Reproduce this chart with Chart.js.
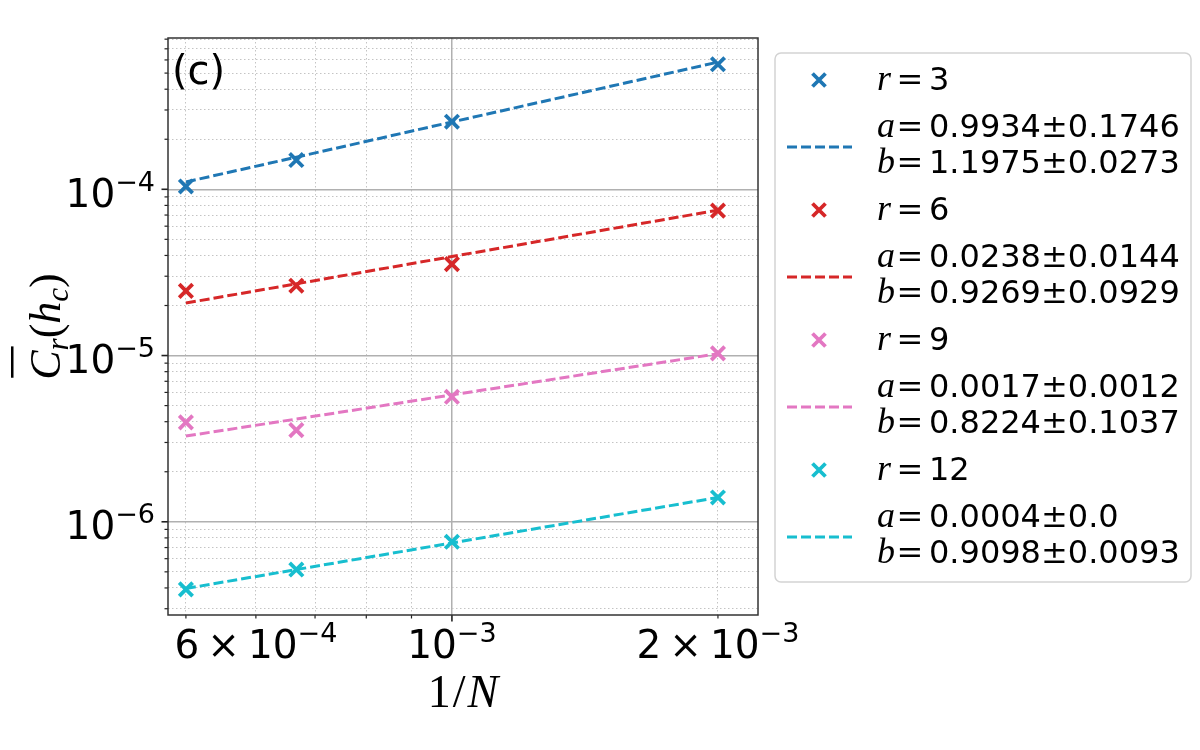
<!DOCTYPE html>
<html>
<head>
<meta charset="utf-8">
<script src="https://cdn.jsdelivr.net/npm/chart.js@4.4.1/dist/chart.umd.min.js"></script>
<style>
  body { margin: 0; background: #fff; }
  #wrap { width: 1200px; height: 750px; }
</style>
</head>
<body>
<div id="wrap"><canvas id="myChart"></canvas></div>
<script>
// x values: 1/N for N = 2000, 1500, 1000, 500
const invN = [5e-4, 6.667e-4, 1e-3, 2e-3];
const rValues = [3, 6, 9, 12];
const colors = ['#1f77b4', '#d62728', '#e377c2', '#17becf'];

// measured C_r(h_c)
const c3 = [1.04e-4, 1.50e-4, 2.55e-4, 5.65e-4];
const c6 = [2.45e-5, 2.63e-5, 3.55e-5, 7.44e-5];
const c9 = [3.96e-6, 3.56e-6, 5.65e-6, 1.03e-5];
const c12 = [3.92e-7, 5.16e-7, 7.58e-7, 1.40e-6];

// fitted lines a*x^b, read at the same x values
const fit3 = [1.107e-4, 1.56e-4, 2.54e-4, 5.82e-4];
const fit6 = [2.07e-5, 2.70e-5, 3.94e-5, 7.49e-5];
const fit9 = [3.28e-6, 4.15e-6, 5.80e-6, 1.025e-5];
const fit12 = [3.97e-7, 5.16e-7, 7.46e-7, 1.40e-6];

// legend fit parameters
const aFit = ['0.9934', '0.0238', '0.0017', '0.0004'];
const aErr = ['0.1746', '0.0144', '0.0012', '0.0'];
const bFit = ['1.1975', '0.9269', '0.8224', '0.9098'];
const bErr = ['0.0273', '0.0929', '0.1037', '0.0093'];

// ticks
const xTicks = [5e-4, 6e-4, 7e-4, 8e-4, 9e-4, 1e-3, 2e-3];
const xMajor = [1e-3];
const xLabelValues = [6e-4, 1e-3, 2e-3];
const xLabelBase = ['6×10', '10', '2×10'];
const xLabelExp = ['−4', '−3', '−3'];
const yMajor = [1e-6, 1e-5, 1e-4];
const yLabelBase = ['10', '10', '10'];
const yLabelExp = ['−6', '−5', '−4'];

const yTicks = [];
[1e-7, 1e-6, 1e-5, 1e-4].forEach(d => {
  for (let m = 1; m <= 9; m++) {
    const v = +(m * d).toPrecision(3);
    if (v >= 2.75e-7 && v <= 8.13e-4) yTicks.push(v);
  }
});

const series = [c3, c6, c9, c12];
const fits = [fit3, fit6, fit9, fit12];
const datasets = [];
rValues.forEach((r, i) => {
  datasets.push({
    label: 'r = ' + r,
    data: invN.map((x, k) => ({ x: x, y: series[i][k] })),
    showLine: false,
    pointStyle: 'crossRot',
    pointRadius: 9.5,
    pointBorderWidth: 3.8,
    borderColor: colors[i],
    backgroundColor: colors[i],
  });
  datasets.push({
    label: 'fit r = ' + r,
    data: invN.map((x, k) => ({ x: x, y: fits[i][k] })),
    showLine: true,
    pointRadius: 0,
    borderColor: colors[i],
    borderWidth: 3,
    borderDash: [10, 4],
    fill: false,
  });
});

const isMajor = (c, list) => c.tick && list.includes(c.tick.value);

function sci(ctx, base, exp, x, yBase, align) {
  const fb = '39px "DejaVu Sans"', fe = '27px "DejaVu Sans"';
  const gap = 8;
  ctx.font = fb;
  const parts = base.split('×');
  const widths = parts.map(p => ctx.measureText(p).width);
  const timesW = ctx.measureText('×').width;
  const wb = widths.reduce((a, b) => a + b, 0) + (parts.length > 1 ? timesW + 2 * gap : 0);
  ctx.font = fe;
  const we = ctx.measureText(exp).width;
  let cx = align === 'right' ? x - wb - we : x - (wb + we) / 2;
  ctx.textAlign = 'left';
  ctx.textBaseline = 'alphabetic';
  ctx.font = fb;
  parts.forEach((p, i) => {
    if (i > 0) {
      cx += gap;
      ctx.fillText('×', cx, yBase);
      cx += timesW + gap;
    }
    ctx.fillText(p, cx, yBase);
    cx += widths[i];
  });
  ctx.font = fe;
  ctx.fillText(exp, cx, yBase - 16);
}

function mathRow(ctx, v, num, err, y) {
  ctx.textAlign = 'left';
  ctx.font = 'italic 36px "Liberation Serif"';
  ctx.fillText(v, 877, y);
  ctx.font = '32px "DejaVu Serif"';
  ctx.textAlign = 'center';
  ctx.fillText('=', 910, y);
  ctx.textAlign = 'left';
  ctx.font = '32px "DejaVu Sans"';
  ctx.fillText(num, 929, y);
  let x = 929 + ctx.measureText(num).width;
  if (err) {
    ctx.font = '32px "DejaVu Serif"';
    ctx.fillText('±', x, y);
    x += ctx.measureText('±').width;
    ctx.font = '32px "DejaVu Sans"';
    ctx.fillText(err, x, y);
  }
}

function drawX(ctx, cx, cy, h, color, lw) {
  ctx.strokeStyle = color;
  ctx.lineWidth = lw;
  ctx.setLineDash([]);
  ctx.beginPath();
  ctx.moveTo(cx - h, cy - h); ctx.lineTo(cx + h, cy + h);
  ctx.moveTo(cx + h, cy - h); ctx.lineTo(cx - h, cy + h);
  ctx.stroke();
}

const decor = {
  id: 'decor',
  afterDraw(chart) {
    const ctx = chart.ctx;
    const a = chart.chartArea;
    const xs = chart.scales.x, ys = chart.scales.y;
    ctx.save();

    // tick marks
    ctx.strokeStyle = '#222';
    ctx.setLineDash([]);
    xs.ticks.forEach(t => {
      const px = xs.getPixelForValue(t.value);
      const maj = xMajor.includes(t.value);
      ctx.lineWidth = maj ? 1.6 : 1.2;
      ctx.beginPath();
      ctx.moveTo(px, a.bottom);
      ctx.lineTo(px, a.bottom + (maj ? 6.5 : 3.5));
      ctx.stroke();
    });
    ys.ticks.forEach(t => {
      const py = ys.getPixelForValue(t.value);
      const maj = yMajor.includes(t.value);
      ctx.lineWidth = maj ? 1.6 : 1.2;
      ctx.beginPath();
      ctx.moveTo(a.left, py);
      ctx.lineTo(a.left - (maj ? 6.5 : 3.5), py);
      ctx.stroke();
    });

    // frame
    ctx.strokeStyle = '#333';
    ctx.lineWidth = 1.5;
    ctx.strokeRect(a.left, a.top, a.right - a.left, a.bottom - a.top);

    // tick labels
    ctx.fillStyle = '#000';
    xLabelValues.forEach((v, i) => {
      sci(ctx, xLabelBase[i], xLabelExp[i], xs.getPixelForValue(v), 658, 'center');
    });
    yMajor.forEach((v, i) => {
      sci(ctx, yLabelBase[i], yLabelExp[i], 155, ys.getPixelForValue(v) + 17.4, 'right');
    });

    // x title 1/N
    ctx.textAlign = 'left';
    ctx.textBaseline = 'alphabetic';
    ctx.font = '46px "Liberation Serif"';
    const w1 = ctx.measureText('1').width, ws = ctx.measureText('/').width;
    ctx.font = 'italic 46px "Liberation Serif"';
    const wN = ctx.measureText('N').width;
    let sx = (a.left + a.right) / 2 - (w1 + ws + wN + 4) / 2;
    ctx.font = '46px "Liberation Serif"';
    ctx.fillText('1', sx, 707);
    ctx.fillText('/', sx + w1 + 2, 707);
    ctx.font = 'italic 46px "Liberation Serif"';
    ctx.fillText('N', sx + w1 + ws + 4, 707);

    // y title: overline C_r(h_c)
    ctx.save();
    ctx.translate(60, (a.top + a.bottom) / 2);
    ctx.rotate(-Math.PI / 2);
    const big = 44, sub = 31;
    const pieces = [
      { t: 'C', f: 'italic ' + big + 'px "Liberation Serif"', dy: 0 },
      { t: 'r', f: 'italic ' + sub + 'px "Liberation Serif"', dy: 8 },
      { t: '(', f: big + 'px "Liberation Serif"', dy: 0 },
      { t: 'h', f: 'italic ' + big + 'px "Liberation Serif"', dy: 0 },
      { t: 'c', f: 'italic ' + sub + 'px "Liberation Serif"', dy: 8 },
      { t: ')', f: big + 'px "Liberation Serif"', dy: 0 },
    ];
    let tw = 0;
    pieces.forEach(p => { ctx.font = p.f; p.w = ctx.measureText(p.t).width; tw += p.w; });
    let px = -tw / 2;
    pieces.forEach((p, k) => {
      ctx.font = p.f;
      ctx.fillText(p.t, px, p.dy);
      if (k === 0) {
        ctx.fillRect(px + 2, -49, p.w + 2, 2.5);
      }
      px += p.w;
    });
    ctx.restore();

    // panel tag
    ctx.font = '40px "DejaVu Sans"';
    ctx.textAlign = 'left';
    ctx.fillText('(c)', 172, 84);

    // legend
    ctx.beginPath();
    ctx.roundRect(775, 53, 416, 529, 6);
    ctx.fillStyle = '#fff';
    ctx.fill();
    ctx.strokeStyle = '#d3d3d3';
    ctx.lineWidth = 1.5;
    ctx.stroke();
    rValues.forEach((r, i) => {
      const y0 = 130 * i;
      drawX(ctx, 819, 80 + y0, 6.5, colors[i], 3.8);
      ctx.strokeStyle = colors[i];
      ctx.lineWidth = 3;
      ctx.setLineDash([10, 4]);
      ctx.beginPath();
      ctx.moveTo(787, 147 + y0);
      ctx.lineTo(852, 147 + y0);
      ctx.stroke();
      ctx.setLineDash([]);
      ctx.fillStyle = '#000';
      mathRow(ctx, 'r', String(r), null, 90 + y0);
      mathRow(ctx, 'a', aFit[i], aErr[i], 137 + y0);
      mathRow(ctx, 'b', bFit[i], bErr[i], 173 + y0);
    });
    ctx.restore();
  }
};

const config = {
  type: 'scatter',
  data: { datasets: datasets },
  options: {
    responsive: true,
    maintainAspectRatio: false,
    animation: false,
    events: [],
    layout: { padding: { top: 38, right: 442, left: 0, bottom: 0 } },
    plugins: { legend: { display: false }, tooltip: { enabled: false } },
    scales: {
      x: {
        type: 'logarithmic',
        min: 4.772e-4,
        max: 2.22e-3,
        afterBuildTicks: s => { s.ticks = xTicks.map(v => ({ value: v, major: xMajor.includes(v) })); },
        afterFit: s => { s.height = 135; },
        ticks: { display: false },
        grid: {
          drawTicks: false,
          color: c => isMajor(c, xMajor) ? '#b0b0b0' : '#c4c4c4',
          lineWidth: c => isMajor(c, xMajor) ? 1.5 : 1,
        },
        border: { display: false, dash: c => isMajor(c, xMajor) ? [] : [1.5, 2.5] },
      },
      y: {
        type: 'logarithmic',
        min: 2.75e-7,
        max: 8.13e-4,
        afterBuildTicks: s => { s.ticks = yTicks.map(v => ({ value: v, major: yMajor.includes(v) })); },
        afterFit: s => { s.width = 168; },
        ticks: { display: false },
        grid: {
          drawTicks: false,
          color: c => isMajor(c, yMajor) ? '#b0b0b0' : '#c4c4c4',
          lineWidth: c => isMajor(c, yMajor) ? 1.5 : 1,
        },
        border: { display: false, dash: c => isMajor(c, yMajor) ? [] : [1.5, 2.5] },
      },
    },
  },
  plugins: [decor],
};

const ctx = document.getElementById('myChart').getContext('2d');
const myChart = new Chart(ctx, config);
</script>
</body>
</html>
